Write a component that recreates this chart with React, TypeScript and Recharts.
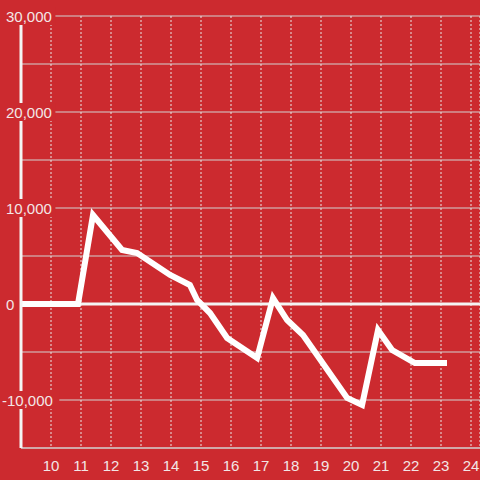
import React from 'react';
import { LineChart, Line, XAxis, YAxis, CartesianGrid, ReferenceLine } from 'recharts';

// values
const hours = [9, 10.9, 11.4, 12.37, 12.87, 13.97, 14.63, 14.87, 15.3, 15.87, 16.87, 17.4, 17.87, 18.4, 19.87, 20.37, 20.9, 21.37, 22.13, 23.2];
const balance = [0, 0, 9270, 5630, 5310, 3020, 1980, 420, -940, -3540, -5620, 620, -1670, -3230, -9790, -10520, -2710, -4790, -6150, -6150];
const xTicks = [10, 11, 12, 13, 14, 15, 16, 17, 18, 19, 20, 21, 22, 23, 24];
const yTicks = [-15000, -10000, -5000, 0, 5000, 10000, 15000, 20000, 25000, 30000];

const data = hours.map((h, i) => ({ h, v: balance[i] }));

const BG = '#cc2a2f';
const TEXT = '#f3e6e6';

const YTick = (props: any) => {
  const { y, payload } = props;
  const val = payload.value;
  if (val % 10000 !== 0) return null;
  const label = val.toLocaleString('en-US');
  const x0 = val < 0 ? 2 : 6;
  const w = label.length * 7.9 + 3;
  return (
    <g>
      <rect x={x0 - 1} y={y - 9} width={w} height={18} fill={BG} />
      <text x={x0} y={y} dy={5.5} textAnchor="start" fill={TEXT} fontSize={15}>
        {label}
      </text>
    </g>
  );
};

const App: React.FC = () => {
  return (
    <div style={{ position: 'absolute', left: 0, top: 0, width: 480, height: 480, background: BG, fontFamily: '"Liberation Sans", Arial, sans-serif' }}>
      <LineChart width={480} height={480} data={data} margin={{ top: 16, right: 0, left: 20, bottom: 0 }}>
        <CartesianGrid horizontal={true} vertical={false} stroke="#d2d2d2" strokeWidth={1} />
        <CartesianGrid horizontal={false} vertical={true} stroke="#e8e8e8" strokeDasharray="2 2" strokeWidth={1} />
        <XAxis
          dataKey="h"
          type="number"
          domain={[9, 24.3]}
          ticks={xTicks}
          interval={0}
          height={32}
          axisLine={{ stroke: '#d2d2d2', strokeWidth: 1 }}
          tickLine={false}
          tick={{ fill: TEXT, fontSize: 15 }}
          tickMargin={6}
        />
        <YAxis
          type="number"
          domain={[-15000, 30000]}
          ticks={yTicks}
          interval={0}
          width={1}
          axisLine={{ stroke: '#f4f4f4', strokeWidth: 3 }}
          tickLine={false}
          tick={<YTick />}
        />
        <ReferenceLine y={0} stroke="#f4f4f4" strokeWidth={3} />
        <Line
          type="linear"
          dataKey="v"
          stroke="#ffffff"
          strokeWidth={6}
          dot={false}
          isAnimationActive={false}
        />
      </LineChart>
    </div>
  );
};

export default App;
